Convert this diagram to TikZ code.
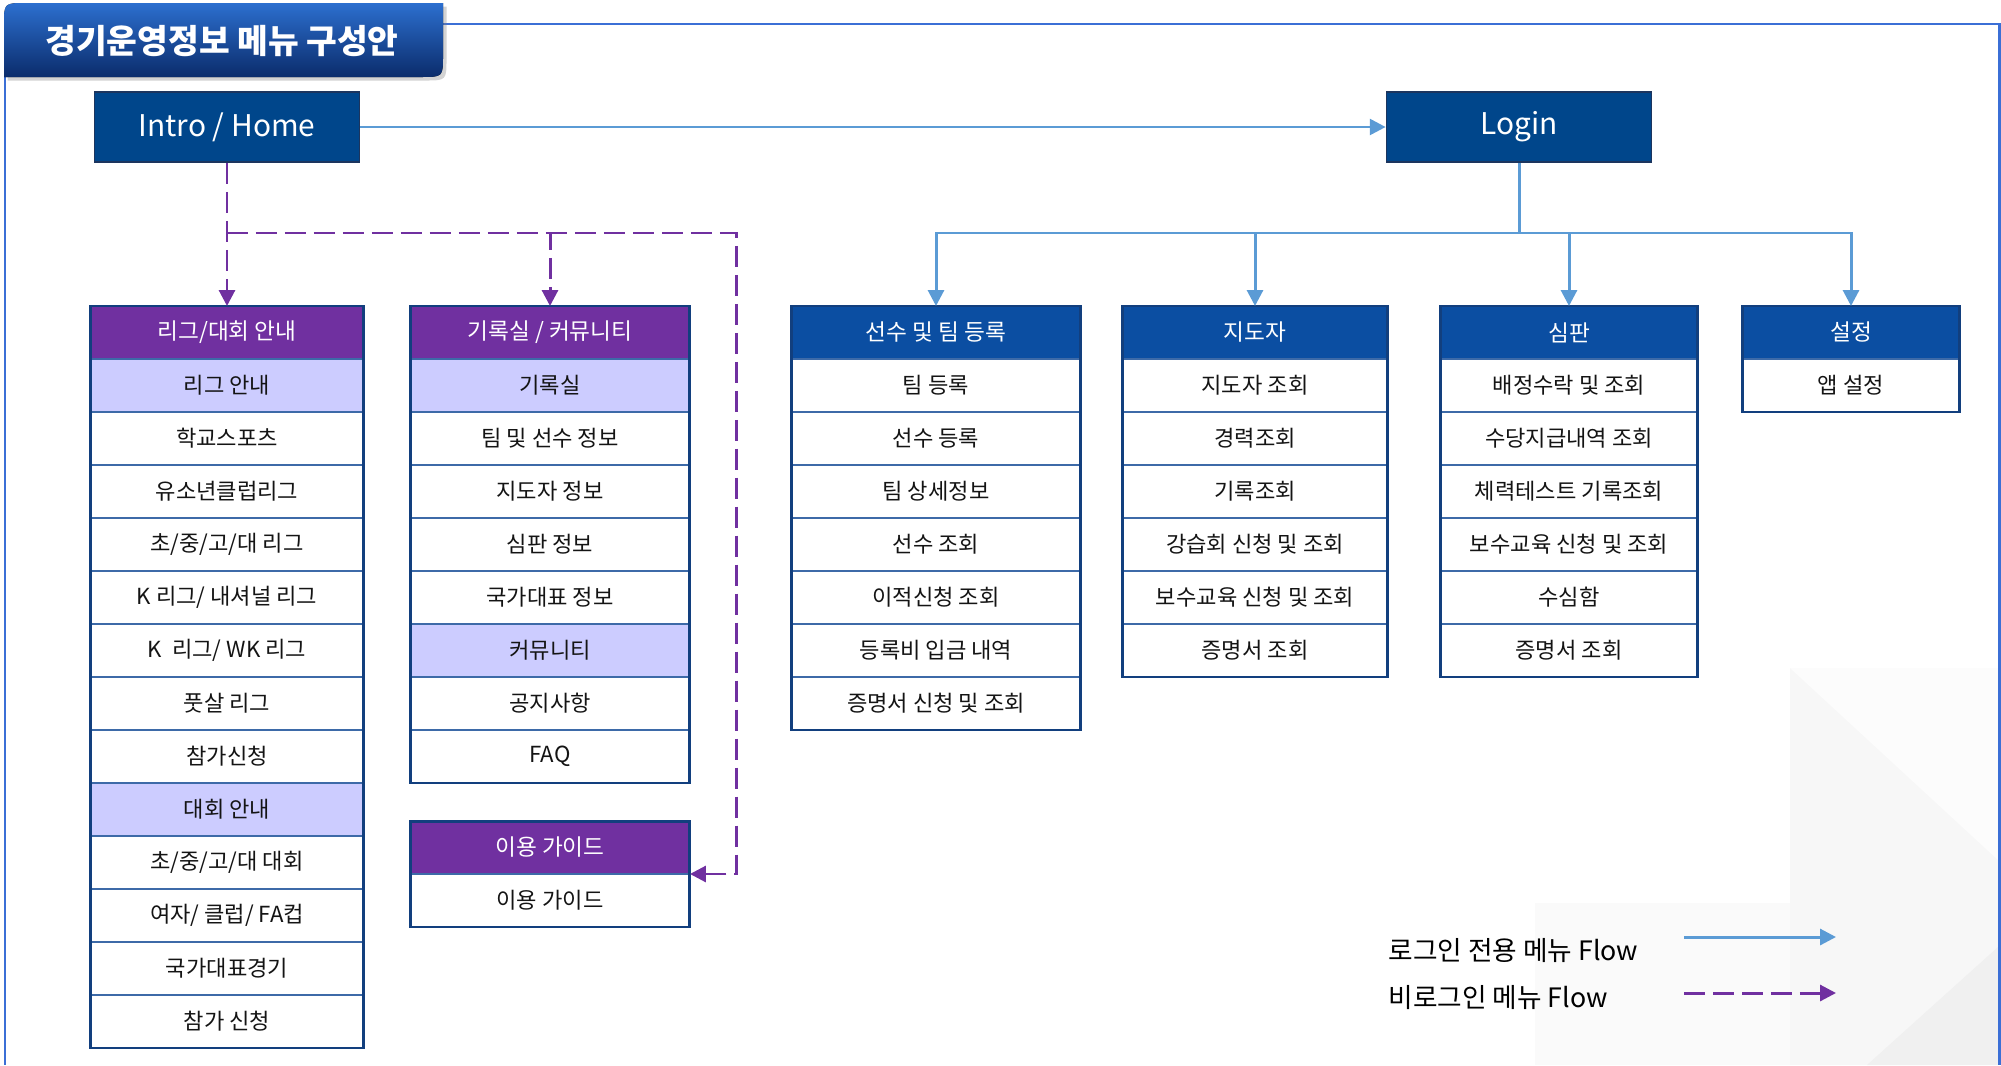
\documentclass[tikz,border=0pt]{standalone}
\usepackage{fontspec}
\setmainfont{Noto Sans CJK KR}
\usetikzlibrary{arrows.meta,shadows}

\definecolor{navyrim}{HTML}{123F7E}
\definecolor{rowline}{HTML}{3D6AA8}
\definecolor{hdrpurple}{HTML}{7030A0}
\definecolor{lavender}{HTML}{CCCCFF}
\definecolor{hdrblue}{HTML}{0B4EA2}
\definecolor{homeblue}{HTML}{00468B}
\definecolor{homerim}{HTML}{1C355E}
\definecolor{flowblue}{HTML}{5B9BD5}
\definecolor{flowpurple}{HTML}{7030A0}
\definecolor{frameblue}{HTML}{3B6FD6}
\definecolor{tabtop}{HTML}{2C6FCF}
\definecolor{tabbot}{HTML}{0B2C6B}

\begin{document}
\begin{tikzpicture}[x=0.02cm,y=-0.02cm,line width=0.8pt,
  cell/.style={draw=rowline,line width=0.8pt,inner sep=0pt,outer sep=0pt,
    minimum height=1.06cm,anchor=north,font=\fontsize{12.6}{15}\selectfont,text=black!92},
  item/.style={cell,fill=white},
  subitem/.style={cell,fill=lavender},
  headp/.style={cell,fill=hdrpurple,text=white,font=\fontsize{12.9}{15}\selectfont},
  headb/.style={cell,fill=hdrblue,text=white,font=\fontsize{12.9}{15}\selectfont},
  lgcol/.style={minimum width=5.46cm},
  rccol/.style={minimum width=5.6cm},
  plcol/.style={minimum width=5.8cm},
  cocol/.style={minimum width=5.3cm},
  rfcol/.style={minimum width=5.14cm},
  stcol/.style={minimum width=4.34cm},
  boxrim/.style={draw=navyrim,line width=1.7pt},
  homebox/.style={fill=homeblue,draw=homerim,line width=1pt,minimum width=5.3cm,
    minimum height=1.4cm,text=white,font=\fontsize{17}{20}\selectfont},
  bluearr/.style={draw=flowblue,line width=1.7pt,-{Triangle[length=9pt,width=9pt]}},
  purparr/.style={draw=flowpurple,line width=1.7pt,dash pattern=on 12pt off 4.5pt,
    -{Triangle[length=9pt,width=9pt]}},
  frameline/.style={draw=frameblue,line width=1.7pt},
]
\useasboundingbox (0,0) rectangle (2001,1065);
% background
\fill[black!2] (1535,903) rectangle (1790,1065);
\fill[black!3] (1790,668) rectangle (1998,1065);
\fill[black!1] (1790,668) -- (1998,668) -- (1998,860) -- cycle;
\fill[black!6] (1998,947) -- (1998,1065) -- (1867,1065) -- cycle;
% frame and title tab
\draw[frameline] (443,24) -- (1999,24) -- (1999,1065);
\draw[frameline] (5,77) -- (5,1065);
\fill[top color=tabtop,bottom color=tabbot,drop shadow={opacity=0.35,shadow xshift=2pt,shadow yshift=-2pt}]
  (4,77) -- (4,25) .. controls (4,3) .. (26,3) -- (443,3) -- (443,55) .. controls (443,77) .. (421,77) -- cycle;
\node[font=\fontsize{19}{22}\selectfont\bfseries,text=white] (ttl) at (222,41) {경기운영정보 메뉴 구성안};

\node[homebox] (intro) at (227,127) {Intro / Home};
\node[homebox] (login) at (1519,127) {Login};

% league / competition
\node[headp,lgcol] (lg0) at (227,306) {리그/대회 안내};
\node[subitem,lgcol] (lg1) at (227,359) {리그 안내};
\node[item,lgcol] (lg2) at (227,412) {학교스포츠};
\node[item,lgcol] (lg3) at (227,465) {유소년클럽리그};
\node[item,lgcol] (lg4) at (227,518) {초/중/고/대 리그};
\node[item,lgcol] (lg5) at (227,571) {K 리그/ 내셔널 리그};
\node[item,lgcol] (lg6) at (227,624) {K\ \ 리그/ WK 리그};
\node[item,lgcol] (lg7) at (227,677) {풋살 리그};
\node[item,lgcol] (lg8) at (227,730) {참가신청};
\node[subitem,lgcol] (lg9) at (227,783) {대회 안내};
\node[item,lgcol] (lg10) at (227,836) {초/중/고/대 대회};
\node[item,lgcol] (lg11) at (227,889) {여자/ 클럽/ FA컵};
\node[item,lgcol] (lg12) at (227,942) {국가대표경기};
\node[item,lgcol] (lg13) at (227,995) {참가 신청};
\draw[boxrim] (lg0.north west) rectangle (lg13.south east);

% records / community
\node[headp,rccol] (rc0) at (550,306) {기록실 / 커뮤니티};
\node[subitem,rccol] (rc1) at (550,359) {기록실};
\node[item,rccol] (rc2) at (550,412) {팀 및 선수 정보};
\node[item,rccol] (rc3) at (550,465) {지도자 정보};
\node[item,rccol] (rc4) at (550,518) {심판 정보};
\node[item,rccol] (rc5) at (550,571) {국가대표 정보};
\node[subitem,rccol] (rc6) at (550,624) {커뮤니티};
\node[item,rccol] (rc7) at (550,677) {공지사항};
\node[item,rccol] (rc8) at (550,730) {FAQ};
\draw[boxrim] (rc0.north west) rectangle (rc8.south east);

% guide
\node[headp,rccol] (gd0) at (550,821) {이용 가이드};
\node[item,rccol] (gd1) at (550,874) {이용 가이드};
\draw[boxrim] (gd0.north west) rectangle (gd1.south east);

% players and teams
\node[headb,plcol] (pl0) at (936,306) {선수 및 팀 등록};
\node[item,plcol] (pl1) at (936,359) {팀 등록};
\node[item,plcol] (pl2) at (936,412) {선수 등록};
\node[item,plcol] (pl3) at (936,465) {팀 상세정보};
\node[item,plcol] (pl4) at (936,518) {선수 조회};
\node[item,plcol] (pl5) at (936,571) {이적신청 조회};
\node[item,plcol] (pl6) at (936,624) {등록비 입금 내역};
\node[item,plcol] (pl7) at (936,677) {증명서 신청 및 조회};
\draw[boxrim] (pl0.north west) rectangle (pl7.south east);

% coaches
\node[headb,cocol] (co0) at (1255,306) {지도자};
\node[item,cocol] (co1) at (1255,359) {지도자 조회};
\node[item,cocol] (co2) at (1255,412) {경력조회};
\node[item,cocol] (co3) at (1255,465) {기록조회};
\node[item,cocol] (co4) at (1255,518) {강습회 신청 및 조회};
\node[item,cocol] (co5) at (1255,571) {보수교육 신청 및 조회};
\node[item,cocol] (co6) at (1255,624) {증명서 조회};
\draw[boxrim] (co0.north west) rectangle (co6.south east);

% referees
\node[headb,rfcol] (rf0) at (1569,306) {심판};
\node[item,rfcol] (rf1) at (1569,359) {배정수락 및 조회};
\node[item,rfcol] (rf2) at (1569,412) {수당지급내역 조회};
\node[item,rfcol] (rf3) at (1569,465) {체력테스트 기록조회};
\node[item,rfcol] (rf4) at (1569,518) {보수교육 신청 및 조회};
\node[item,rfcol] (rf5) at (1569,571) {수심함};
\node[item,rfcol] (rf6) at (1569,624) {증명서 조회};
\draw[boxrim] (rf0.north west) rectangle (rf6.south east);

% settings
\node[headb,stcol] (st0) at (1851,306) {설정};
\node[item,stcol] (st1) at (1851,359) {앱 설정};
\draw[boxrim] (st0.north west) rectangle (st1.south east);

% login flow
\coordinate (lj) at (1519,233);
\draw[bluearr] (intro.east) -- (login.west);
\draw[bluearr] (login.south) -- (lj) -| (pl0.north);
\draw[bluearr] (lj) -| (co0.north);
\draw[bluearr] (lj) -| (rf0.north);
\draw[bluearr] (lj) -| (st0.north);

% non-login flow
\coordinate (ij) at (227,233);
\coordinate (gj) at (736,233);
\draw[purparr] (intro.south) -- (lg0.north);
\draw[purparr] (ij) -| (rc0.north);
\draw[purparr] (ij) -- (gj) |- (gd0.south east);

% legend
\node[anchor=west,font=\fontsize{15.2}{18}\selectfont] (kl1) at (1382,950) {로그인 전용 메뉴 Flow};
\node[anchor=west,font=\fontsize{15.2}{18}\selectfont] (kl2) at (1382,997) {비로그인 메뉴 Flow};
\coordinate (k1s) at (1684,937);
\coordinate (k1e) at (1836,937);
\coordinate (k2s) at (1684,993);
\coordinate (k2e) at (1836,993);
\draw[bluearr] (k1s) -- (k1e);
\draw[purparr] (k2s) -- (k2e);
\end{tikzpicture}
\end{document}
